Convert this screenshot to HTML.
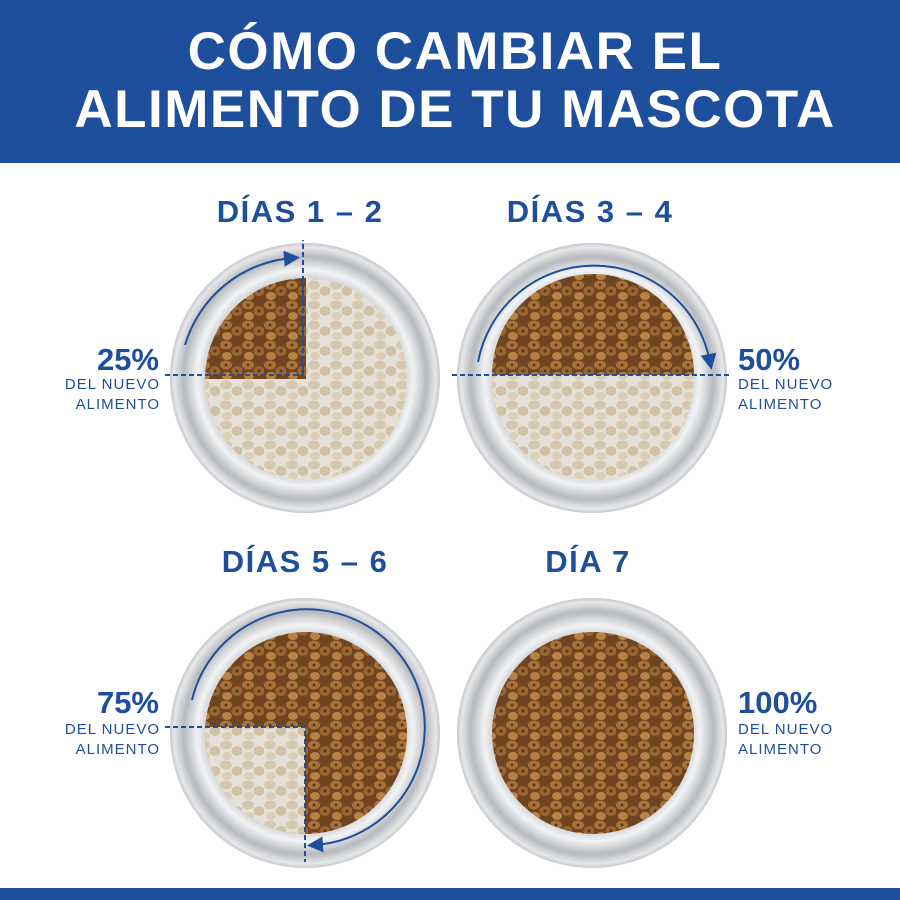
<!DOCTYPE html>
<html><head><meta charset="utf-8"><style>
body{margin:0;background:#fff}
svg{display:block}
text{font-family:"Liberation Sans",sans-serif}
</style></head><body>
<svg width="900" height="900" viewBox="0 0 900 900" xmlns="http://www.w3.org/2000/svg">
<defs>
<pattern id="fresh" width="22" height="20" patternUnits="userSpaceOnUse">
<rect width="22" height="20" fill="#6e4520"/>
<ellipse cx="6" cy="5" rx="6" ry="4.5" fill="#a8733a"/>
<ellipse cx="17" cy="11" rx="5.5" ry="5" fill="#9a6530"/>
<ellipse cx="7" cy="16" rx="5" ry="4" fill="#b98245"/>
<circle cx="6" cy="5" r="1.5" fill="#5a3716"/>
<circle cx="17" cy="11" r="1.5" fill="#5a3716"/>
</pattern>
<pattern id="old" width="22" height="20" patternUnits="userSpaceOnUse">
<rect width="22" height="20" fill="#e6e1d8"/>
<ellipse cx="6" cy="5" rx="6" ry="4.5" fill="#d6c8ae"/>
<ellipse cx="17" cy="11" rx="5.5" ry="5" fill="#d2c2a5"/>
<ellipse cx="7" cy="16" rx="5" ry="4" fill="#dccfb7"/>
</pattern>
<radialGradient id="rim" cx="50%" cy="50%" r="50%">
<stop offset="0.72" stop-color="#c9cbcf"/>
<stop offset="0.8" stop-color="#f2f3f4"/>
<stop offset="0.9" stop-color="#b7babe"/>
<stop offset="0.97" stop-color="#e6e7e9"/>
<stop offset="1" stop-color="#c6c8cb"/>
</radialGradient>
<marker id="ar" markerWidth="8" markerHeight="8" refX="4" refY="4" orient="auto"><path d="M0,0 L8,4 L0,8 z" fill="#1d4f9c"/></marker>
</defs>
<rect width="900" height="163" fill="#1d4f9c"/>
<rect y="888" width="900" height="12" fill="#1d4f9c"/>
<text x="455" y="69" text-anchor="middle" font-size="53" font-weight="bold" letter-spacing="1.5" fill="#fff">CÓMO CAMBIAR EL</text>
<text x="455" y="127" text-anchor="middle" font-size="53" font-weight="bold" letter-spacing="1.5" fill="#fff">ALIMENTO DE TU MASCOTA</text>

<g font-weight="bold" fill="#1d4f9c" font-size="31" text-anchor="middle" letter-spacing="1.5">
<text x="300" y="222">DÍAS 1 – 2</text>
<text x="590" y="222">DÍAS 3 – 4</text>
<text x="305" y="572">DÍAS 5 – 6</text>
<text x="588" y="572">DÍA 7</text>
</g>

<g>
<circle cx="305" cy="378" r="135" fill="url(#rim)"/>
<circle cx="306" cy="379" r="101" fill="url(#old)"/>
<path d="M306,379 L205,379 A101,101 0 0 1 306,278 Z" fill="url(#fresh)"/>

<circle cx="592" cy="378" r="135" fill="url(#rim)"/>
<circle cx="593" cy="379" r="101" fill="url(#old)"/>
<path d="M492,375 A101,101 0 0 1 694,375 Z" fill="url(#fresh)"/>

<circle cx="305" cy="733" r="135" fill="url(#rim)"/>
<circle cx="306" cy="733" r="101" fill="url(#fresh)"/>
<path d="M305,727 L205,727 A101,101 0 0 0 305,834 Z" fill="url(#old)"/>

<circle cx="592" cy="733" r="135" fill="url(#rim)"/>
<circle cx="593" cy="733" r="101" fill="url(#fresh)"/>
</g>

<g stroke="#1d4f9c" stroke-width="2" fill="none">
<path d="M165,375 H303 V240" stroke-dasharray="5,3"/>
<path d="M185,345 A122,122 0 0 1 292,258" marker-end="url(#ar)"/>
<path d="M452,375 H732" stroke-dasharray="5,3"/>
<path d="M478,362 A118,118 0 0 1 710,362" marker-end="url(#ar)"/>
<path d="M165,727 H305 V862" stroke-dasharray="5,3"/>
<path d="M192,700 A118,118 0 1 1 315,845" marker-end="url(#ar)"/>
</g>

<g fill="#1d4f9c">
<text x="159" y="370" text-anchor="end" font-size="31" font-weight="bold">25%</text>
<text x="160" y="389" text-anchor="end" font-size="15" letter-spacing="1">DEL NUEVO</text>
<text x="160" y="409" text-anchor="end" font-size="15" letter-spacing="1">ALIMENTO</text>
<text x="738" y="370" font-size="31" font-weight="bold">50%</text>
<text x="738" y="389" font-size="15" letter-spacing="1">DEL NUEVO</text>
<text x="738" y="409" font-size="15" letter-spacing="1">ALIMENTO</text>
<text x="159" y="713" text-anchor="end" font-size="31" font-weight="bold">75%</text>
<text x="160" y="734" text-anchor="end" font-size="15" letter-spacing="1">DEL NUEVO</text>
<text x="160" y="754" text-anchor="end" font-size="15" letter-spacing="1">ALIMENTO</text>
<text x="738" y="713" font-size="31" font-weight="bold">100%</text>
<text x="738" y="734" font-size="15" letter-spacing="1">DEL NUEVO</text>
<text x="738" y="754" font-size="15" letter-spacing="1">ALIMENTO</text>
</g>
</svg>
</body></html>
